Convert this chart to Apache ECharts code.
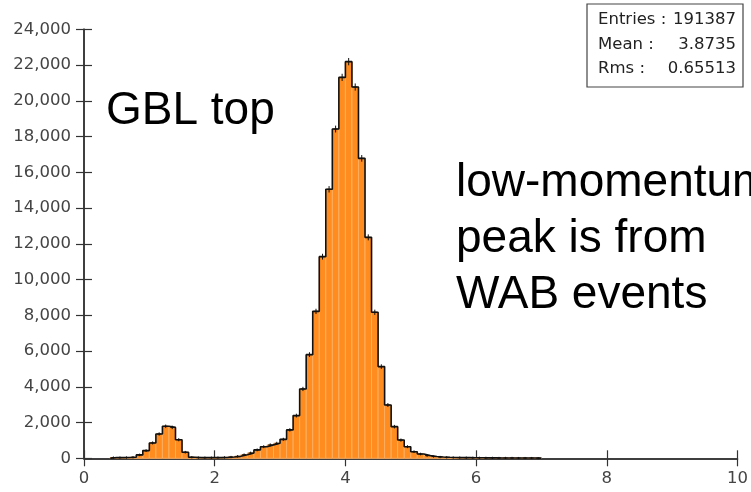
<!DOCTYPE html>
<html>
<head>
<meta charset="utf-8">
<script src="https://cdn.jsdelivr.net/npm/echarts@6/dist/echarts.min.js"></script>
<style>html,body{margin:0;padding:0;background:#fff;}#c{width:751px;height:492px;}</style>
</head>
<body>
<div id="c"></div>
<script>
// ---- data ----
const binStart = 0.4;
const binWidth = 0.1;
const counts = [
  40, 40, 45, 60, 190, 430, 860, 1360, 1790, 1730,
  1040, 340, 60, 40, 35, 35, 40, 50, 70, 110,
  200, 300, 470, 650, 750, 840, 1060, 1590, 2390, 3880,
  5800, 8220, 11280, 15050, 18420, 21310, 22190, 20770, 16780, 12360,
  8170, 5130, 2980, 1770, 1020, 650, 370, 240, 150, 100,
  70, 55, 45, 40, 35, 30, 30, 25, 25, 20,
  20, 20, 15, 15, 15, 10
];
const xTicks = [0, 2, 4, 6, 8, 10];
const yTicks = [0, 2000, 4000, 6000, 8000, 10000, 12000, 14000, 16000, 18000, 20000, 22000, 24000];
const statLabels = ['Entries :', 'Mean :', 'Rms :'];
const statValues = ['191387', '3.8735', '0.65513'];
const note1 = 'GBL top';
const note2 = 'low-momentum\npeak is from\nWAB events';

// ---- build ----
const bins = counts.map((c, i) => {
  const x0 = +(binStart + i * binWidth).toFixed(4);
  return [x0, +(x0 + binWidth).toFixed(4), c];
});
const outline = [];
bins.forEach((b, i) => {
  if (i === 0) outline.push([b[0], 0]);
  outline.push([b[0], b[2]]);
  outline.push([b[1], b[2]]);
});
outline.push([bins[bins.length - 1][1], 0]);

const chart = echarts.init(document.getElementById('c'), null, {renderer: 'canvas'});
const FONT = 'DejaVu Sans';
const axisCommon = {
  axisLine: {show: true, onZero: false, lineStyle: {color: '#333', width: 1.5}},
  splitLine: {show: false}
};
const fmt = v => v.toLocaleString('en-US');

chart.setOption({
  animation: false,
  backgroundColor: '#fff',
  grid: {left: 84, right: 11.5, top: 29.3, bottom: 33.7},
  xAxis: [
    Object.assign({}, axisCommon, {
      type: 'value', min: 0, max: 10, interval: 2,
      axisTick: {show: true, inside: false, length: 8, lineStyle: {color: '#333', width: 1.2}},
      axisLabel: {margin: 12, color: '#444', fontFamily: FONT, fontSize: 16.5, formatter: v => String(v)}
    }),
    Object.assign({}, axisCommon, {
      type: 'value', min: 0, max: 10, interval: 2, position: 'bottom',
      axisTick: {show: true, inside: true, length: 8, lineStyle: {color: '#333', width: 1.2}},
      axisLabel: {show: false}
    })
  ],
  yAxis: [
    Object.assign({}, axisCommon, {
      type: 'value', min: 0, max: 24000, interval: 2000,
      axisTick: {show: true, inside: false, length: 8, lineStyle: {color: '#333', width: 1.2}},
      axisLabel: {margin: 13, color: '#444', fontFamily: FONT, fontSize: 16.5, formatter: fmt}
    }),
    Object.assign({}, axisCommon, {
      type: 'value', min: 0, max: 24000, interval: 2000, position: 'left',
      axisTick: {show: true, inside: true, length: 8, lineStyle: {color: '#333', width: 1.2}},
      axisLabel: {show: false}
    })
  ],
  series: [
    {
      type: 'custom',
      data: bins,
      renderItem: (params, api) => {
        const p0 = api.coord([api.value(0), api.value(2)]);
        const p1 = api.coord([api.value(1), 0]);
        return {
          type: 'rect',
          shape: {x: p0[0], y: p0[1], width: p1[0] - p0[0], height: p1[1] - p0[1]},
          style: {fill: '#ff8c1e', stroke: '#ffae60', lineWidth: 1}
        };
      },
      z: 2
    },
    {
      type: 'line',
      data: outline,
      showSymbol: false,
      symbol: 'none',
      lineStyle: {color: '#111', width: 1.6},
      z: 4
    },
    {
      type: 'custom',
      data: bins,
      renderItem: (params, api) => {
        const xc = (api.value(0) + api.value(1)) / 2;
        const c = api.value(2);
        const e = Math.sqrt(c);
        const top = api.coord([xc, c + e]);
        const bot = api.coord([xc, c - e]);
        const mid = api.coord([xc, c]);
        return {
          type: 'group',
          children: [
            {type: 'line', shape: {x1: top[0], y1: top[1] - 1, x2: bot[0], y2: bot[1] + 1}, style: {stroke: '#111', lineWidth: 1}},
            {type: 'line', shape: {x1: mid[0] - 2, y1: mid[1], x2: mid[0] + 2, y2: mid[1]}, style: {stroke: '#111', lineWidth: 1}}
          ]
        };
      },
      z: 5
    }
  ],
  graphic: [
    {type: 'text', left: 106, top: 88, style: {text: note1, fontFamily: 'Liberation Sans', fontSize: 46, fill: '#000'}},
    {type: 'text', left: 456, top: 155, style: {text: note2, fontFamily: 'Liberation Sans', fontSize: 46, fill: '#000', lineHeight: 56}},
    {type: 'rect', shape: {x: 587, y: 4, width: 156, height: 83}, style: {fill: '#fff', stroke: '#444', lineWidth: 1.2}, z: 10},
    ...statLabels.map((t, i) => ({type: 'text', x: 598, y: 20 + i * 24.3, z: 11,
      style: {text: t, fontFamily: FONT, fontSize: 16.5, fill: '#222', verticalAlign: 'middle', align: 'left'}})),
    ...statValues.map((t, i) => ({type: 'text', x: 736, y: 20 + i * 24.3, z: 11,
      style: {text: t, fontFamily: FONT, fontSize: 16.5, fill: '#222', verticalAlign: 'middle', align: 'right'}}))
  ]
});
</script>
</body>
</html>
